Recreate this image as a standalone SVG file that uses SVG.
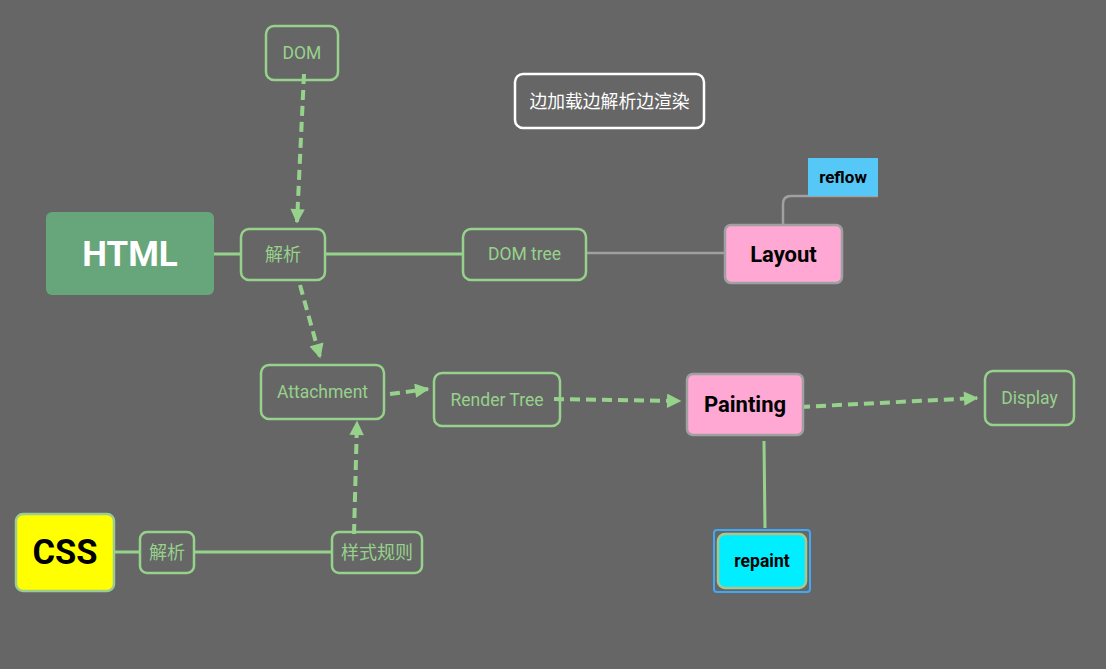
<svg xmlns="http://www.w3.org/2000/svg" width="1106" height="669" viewBox="0 0 1106 669">
<defs>
<marker id="ah" viewBox="0 0 10 10" refX="9" refY="5" markerWidth="4" markerHeight="3.6" orient="auto" markerUnits="strokeWidth">
<path d="M0,0 L10,5 L0,10 z" fill="#97d28c"/>
</marker>
<style>
.n{fill:none;stroke:#97d28c;stroke-width:2.5}
.t{font-family:Roboto,"Noto Sans CJK SC",sans-serif;fill:#97d28c;font-size:17.5px;text-anchor:middle;dominant-baseline:central}
.c{font-size:18px}
.b{font-family:Roboto,"Noto Sans CJK SC",sans-serif;font-weight:bold;fill:#000;text-anchor:middle;dominant-baseline:central}
.s{fill:none;stroke:#97d28c;stroke-width:3}
.d{fill:none;stroke:#97d28c;stroke-width:4;stroke-dasharray:10 6;marker-end:url(#ah)}
.g{fill:none;stroke:#a0a0a0;stroke-width:2.5}
</style>
</defs>
<rect width="1106" height="669" fill="#666666"/>
<g id="connectors">
<line class="s" x1="214" y1="254" x2="241" y2="254"/>
<line class="s" x1="325" y1="254" x2="463" y2="254"/>
<line class="g" x1="586" y1="253" x2="725" y2="253"/>
<path class="g" d="M783,225 V204 Q783,196 791,196 H878"/>
<line class="s" x1="114" y1="552" x2="140" y2="552"/>
<line class="s" x1="194" y1="552" x2="332" y2="552"/>
<line class="s" x1="764" y1="441" x2="765" y2="528"/>
<line class="d" x1="304" y1="74" x2="297" y2="222"/>
<line class="d" x1="300" y1="285" x2="320" y2="357"/>
<line class="d" x1="390" y1="394" x2="428" y2="389"/>
<line class="d" x1="554" y1="399" x2="680" y2="401"/>
<line class="d" x1="800" y1="407" x2="977" y2="398"/>
<line class="d" x1="354" y1="534" x2="357" y2="422"/>
</g>
<g id="title">
<rect x="515" y="74" width="189" height="54" rx="8" fill="none" stroke="#ffffff" stroke-width="2.5"/>
<text x="609.5" y="101" class="t" style="fill:#ffffff;font-size:17.8px">边加载边解析边渲染</text>
</g>
<g id="dom">
<rect class="n" x="266" y="26" width="72" height="54" rx="8"/>
<text class="t" x="302" y="53">DOM</text>
</g>
<g id="html">
<rect x="46" y="212" width="168" height="83" rx="6" fill="#67a57a"/>
<text class="b" x="130" y="254" style="fill:#ffffff;font-size:35px">HTML</text>
</g>
<g id="parse1">
<rect class="n" x="241" y="229" width="84" height="51" rx="8"/>
<text class="t c" x="283" y="254">解析</text>
</g>
<g id="domtree">
<rect class="n" x="463" y="229" width="123" height="51" rx="8"/>
<text class="t" x="524.5" y="254">DOM tree</text>
</g>
<g id="layout">
<rect x="725" y="225" width="117" height="58" rx="6" fill="#ffa8d4" stroke="#a0a0a0" stroke-width="2.5"/>
<text class="b" x="783.5" y="254" style="font-size:22px">Layout</text>
</g>
<g id="reflow">
<rect x="808" y="158" width="70" height="38" fill="#55c8f8"/>
<text class="b" x="843" y="177" style="font-size:17px">reflow</text>
</g>
<g id="attachment">
<rect class="n" x="261" y="365" width="123" height="54" rx="8"/>
<text class="t" x="322.5" y="392">Attachment</text>
</g>
<g id="rendertree">
<rect class="n" x="434" y="373" width="126" height="53" rx="8"/>
<text class="t" x="497" y="400">Render Tree</text>
</g>
<g id="painting">
<rect x="687" y="374" width="116" height="61" rx="6" fill="#ffa8d4" stroke="#a0a0a0" stroke-width="2.5"/>
<text class="b" x="745" y="404" style="font-size:22px">Painting</text>
</g>
<g id="display">
<rect class="n" x="985" y="371" width="89" height="54" rx="8"/>
<text class="t" x="1029.5" y="398">Display</text>
</g>
<g id="repaint">
<rect x="714" y="530" width="96" height="62" rx="3" fill="none" stroke="#3fa9f5" stroke-width="2"/>
<rect x="718" y="534" width="88" height="54" rx="7" fill="#00eeff" stroke="#a8c890" stroke-width="2.5"/>
<text class="b" x="762" y="561" style="font-size:17.5px">repaint</text>
</g>
<g id="css">
<rect x="16" y="514" width="98" height="77" rx="7" fill="#ffff00" stroke="#9ccc90" stroke-width="2.5"/>
<text class="b" x="65" y="552" style="font-size:34.5px">CSS</text>
</g>
<g id="parse2">
<rect class="n" x="140" y="532" width="54" height="41" rx="7"/>
<text class="t c" x="167" y="552">解析</text>
</g>
<g id="rules">
<rect class="n" x="332" y="532" width="90" height="41" rx="7"/>
<text class="t c" x="377" y="552">样式规则</text>
</g>
</svg>
